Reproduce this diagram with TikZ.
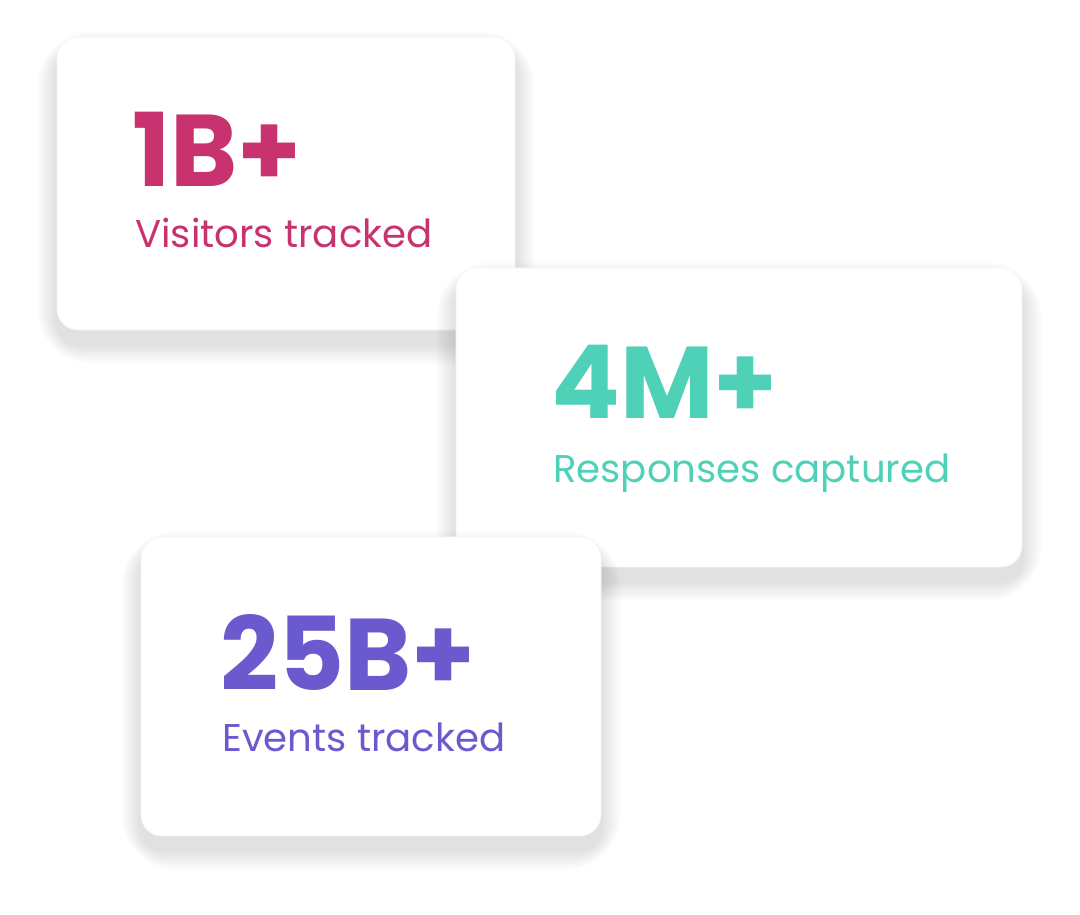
\documentclass[tikz,border=0pt]{standalone}
\usepackage{fontspec}
\setmainfont{Poppins}
\usetikzlibrary{positioning}
\definecolor{pinkc}{HTML}{C7326F}
\definecolor{tealc}{HTML}{4FD1B8}
\definecolor{purplec}{HTML}{6A5ACD}
\newcommand{\cardshade}[4]{%
  \foreach \i in {1,...,10}
    \fill[black,opacity=0.010,rounded corners=12+2*\i]
      (#1-2*\i,#2-2*\i+14) rectangle (#3+2*\i,#4+2*\i+14);}
\begin{document}
\begin{tikzpicture}[x=0.02cm,y=-0.02cm,
  card/.style={fill=white,draw=black!4,rounded corners=12},
  big/.style={anchor=base west,inner sep=0,font=\fontsize{58}{60}\selectfont\bfseries},
  small/.style={anchor=base west,inner sep=0,font=\fontsize{22}{26}\selectfont}]
 \useasboundingbox (0,0) rectangle (1080,915);
 % visitors card
 \cardshade{57}{37}{515}{330}
 \draw[card] (57,37) rectangle (515,330);
 \node[big,text=pinkc] (num1) at (132,187) {1B+};
 \node[small,text=pinkc] (lab1) at (135,248) {Visitors tracked};
 % responses card
 \cardshade{456}{268}{1022}{567}
 \draw[card] (456,268) rectangle (1022,567);
 \node[big,text=tealc] (num2) at (551,419) {4M+};
 \node[small,text=tealc] (lab2) at (553,483) {Responses captured};
 % events card
 \cardshade{141}{537}{601}{836}
 \draw[card] (141,537) rectangle (601,836);
 \node[big,text=purplec] (num3) at (220,691) {25B+};
 \node[small,text=purplec] (lab3) at (222,752) {Events tracked};
\end{tikzpicture}
\end{document}
